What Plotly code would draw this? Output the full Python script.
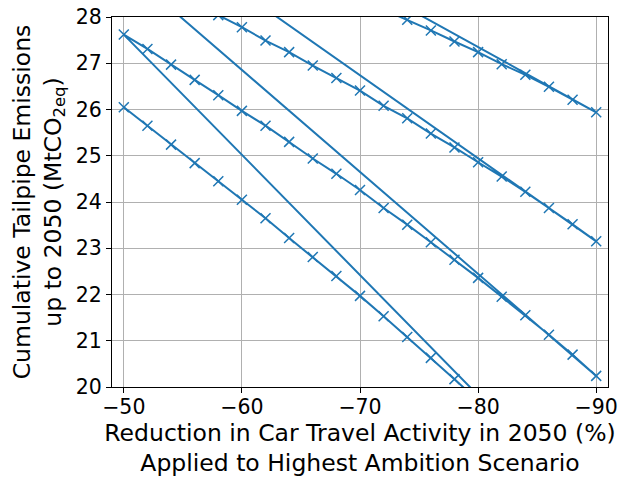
import plotly.graph_objects as go

# reduction in car travel activity (%), same for every scenario
reduction = [-50, -52, -54, -56, -58, -60, -62, -64, -66, -68, -70,
             -72, -74, -76, -78, -80, -82, -84, -86, -88, -90]

# cumulative tailpipe emissions (MtCO2eq), one list per scenario
emis_a = [26.05, 25.65, 25.24, 24.84, 24.45, 24.05, 23.65, 23.22, 22.81, 22.40, 21.97,
          21.53, 21.08, 20.63, 20.17, 19.70, 19.22, 18.73, 18.23, 17.73, 17.22]
emis_b = [27.62, 27.31, 26.97, 26.64, 26.31, 25.97, 25.65, 25.30, 24.94, 24.61, 24.26,
          23.87, 23.51, 23.13, 22.75, 22.36, 21.95, 21.55, 21.13, 20.70, 20.24]
emis_c = [29.06, 28.81, 28.56, 28.30, 28.04, 27.78, 27.49, 27.24, 26.95, 26.68, 26.41,
          26.08, 25.81, 25.48, 25.18, 24.86, 24.55, 24.22, 23.87, 23.52, 23.15]
emis_d = [30.33, 30.15, 29.97, 29.78, 29.59, 29.40, 29.20, 29.00, 28.80, 28.59, 28.38,
          28.16, 27.94, 27.71, 27.47, 27.24, 26.98, 26.75, 26.49, 26.21, 25.94]
emis_e = [31.58, 31.46, 31.34, 31.21, 31.08, 30.95, 30.82, 30.68, 30.54, 30.40, 30.25,
          30.10, 29.95, 29.79, 29.63, 29.47, 29.30, 29.13, 28.96, 28.78, 28.60]

x_ticks = [-50, -60, -70, -80, -90]
x_labels = ["\u221250", "\u221260", "\u221270", "\u221280", "\u221290"]
y_ticks = [20, 21, 22, 23, 24, 25, 26, 27, 28]

# everything plotted as one line, like the original flattened array
xs = []
ys = []
for s in [emis_a, emis_b, emis_c, emis_d, emis_e]:
    xs += reduction
    ys += s

fig = go.Figure()
fig.add_trace(go.Scatter(
    x=xs, y=ys,
    mode='lines+markers',
    line=dict(color='#1f77b4', width=2),
    marker=dict(symbol='x-thin', size=10, line=dict(color='#1f77b4', width=1.5)),
    showlegend=False))

font = "DejaVu Sans"
# page body adds ~8px, so the figure is a bit smaller than the window
fig.update_layout(
    width=620, height=476,
    margin=dict(l=104, r=20, t=9, b=97),
    paper_bgcolor='white', plot_bgcolor='white',
    font=dict(family=font, color='black'))

fig.update_xaxes(
    range=[-49, -91], automargin=False, ticklabeloverflow='allow',
    tickvals=x_ticks, ticktext=x_labels, ticklabelstandoff=-4,
    tickfont=dict(family=font, size=20.5, color='black'),
    ticks='outside', ticklen=5, tickwidth=1.1, tickcolor='black',
    showline=True, mirror=True, linecolor='black', linewidth=1.1,
    showgrid=True, gridcolor='#b0b0b0', gridwidth=1.1, zeroline=False,
    title=dict(text="Reduction in Car Travel Activity in 2050 (%)<br>Applied to Highest Ambition Scenario",
               font=dict(family=font, size=23.5, color='black'), standoff=0))

fig.update_yaxes(
    range=[20, 28], automargin=False, ticklabeloverflow='allow',
    tickvals=y_ticks,
    tickfont=dict(family=font, size=20.5, color='black'),
    ticks='outside', ticklen=5, tickwidth=1.1, tickcolor='black',
    showline=True, mirror=True, linecolor='black', linewidth=1.1,
    showgrid=True, gridcolor='#b0b0b0', gridwidth=1.1, zeroline=False,
    title=dict(text="Cumulative Tailpipe Emissions<br>up to 2050 (MtCO<sub>2eq</sub>)",
               font=dict(family=font, size=23.5, color='black'), standoff=9))

fig.write_html("out.html")
